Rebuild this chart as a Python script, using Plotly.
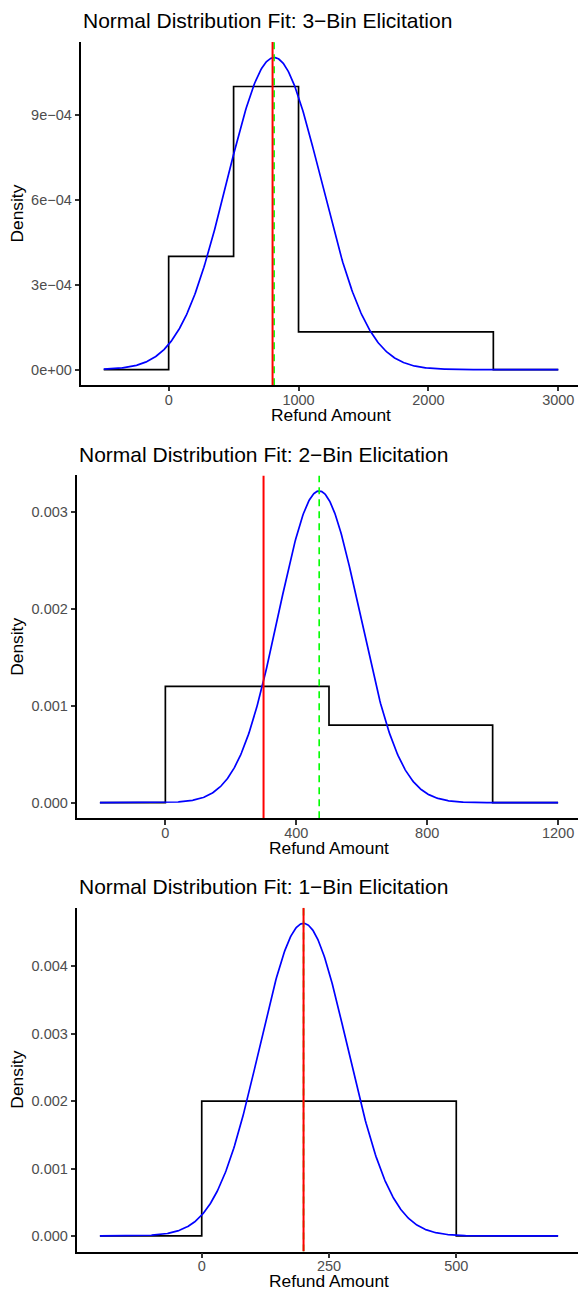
import numpy as np
import plotly.graph_objects as go

# ---------------- data ----------------
titles = ["Normal Distribution Fit: 3\u2212Bin Elicitation",
          "Normal Distribution Fit: 2\u2212Bin Elicitation",
          "Normal Distribution Fit: 1\u2212Bin Elicitation"]

# elicited histogram bin edges and densities
bin_edges_3 = [-500, 0, 500, 1000, 2500, 3000]
bin_dens_3 = [0, 0.0004, 0.0010, 0.0001333, 0]
bin_edges_2 = [-200, 0, 500, 1000, 1200]
bin_dens_2 = [0, 0.0012, 0.0008, 0]
bin_edges_1 = [-200, 0, 500, 700]
bin_dens_1 = [0, 0.0020, 0]

# fitted normal parameters (mean, sd) and reference (red) line
fit_mean = [812, 470, 200]
fit_sd = [362, 124, 86]
ref_value = [800, 300, 200]

# tick values / labels
x_ticks = [[0, 1000, 2000, 3000], [0, 400, 800, 1200], [0, 250, 500]]
y_ticks = [[0, 0.0003, 0.0006, 0.0009], [0, 0.001, 0.002, 0.003], [0, 0.001, 0.002, 0.003, 0.004]]
y_ticktext = [["0e+00", "3e\u221204", "6e\u221204", "9e\u221204"],
              ["0.000", "0.001", "0.002", "0.003"],
              ["0.000", "0.001", "0.002", "0.003", "0.004"]]

edges = [bin_edges_3, bin_edges_2, bin_edges_1]
dens = [bin_dens_3, bin_dens_2, bin_dens_1]

# ---------------- layout (pixels) ----------------
W, H = 578, 1291
panel_left = [81, 77, 77]
panel_right_full = 581          # ggplot panel edge (cropped by image border)
panel_top = [42, 475.4, 907.7]
panel_bottom = [385.2, 818.3, 1251.6]

FONT = "Liberation Sans, Arial, Helvetica, sans-serif"
LW = 1.7

fig = go.Figure()
annotations = []

for i in range(3):
    ax = "" if i == 0 else str(i + 1)
    xa, ya = "x" + ax, "y" + ax
    e = edges[i]
    d = dens[i]
    x0, x1 = e[0], e[-1]

    # histogram outline as steps
    fig.add_trace(go.Scatter(x=e, y=d + [d[-1]], mode="lines", line=dict(color="black", width=LW, shape="hv"),
                             xaxis=xa, yaxis=ya, showlegend=False, hoverinfo="skip"))
    # fitted normal density
    xs = np.linspace(x0, x1, 600)
    ys = np.exp(-0.5 * ((xs - fit_mean[i]) / fit_sd[i]) ** 2) / (fit_sd[i] * np.sqrt(2 * np.pi))
    fig.add_trace(go.Scatter(x=xs, y=ys, mode="lines", line=dict(color="blue", width=LW),
                             xaxis=xa, yaxis=ya, showlegend=False, hoverinfo="skip"))

    ymax = max(max(d), float(ys.max()))
    ylo, yhi = -0.05 * ymax, 1.05 * ymax
    span = x1 - x0
    xlo, xhi_full = x0 - 0.05 * span, x1 + 0.05 * span
    L = panel_left[i]
    xhi = xlo + (xhi_full - xlo) * (W - L) / (panel_right_full - L)

    # mean (green dashed) and reference (red) vertical lines
    fig.add_trace(go.Scatter(x=[fit_mean[i], fit_mean[i]], y=[ylo, yhi], mode="lines",
                             line=dict(color="#00FF00", width=1.6, dash="7px,5px"),
                             xaxis=xa, yaxis=ya, showlegend=False, hoverinfo="skip"))
    fig.add_trace(go.Scatter(x=[ref_value[i], ref_value[i]], y=[ylo, yhi], mode="lines",
                             line=dict(color="#FF0000", width=2.0),
                             xaxis=xa, yaxis=ya, showlegend=False, hoverinfo="skip"))

    common = dict(showgrid=False, zeroline=False, showline=True, linecolor="black", linewidth=LW,
                  ticks="outside", ticklen=4.4, tickwidth=LW, tickcolor="#333333",
                  tickfont=dict(family=FONT, size=14.5, color="#4D4D4D"), automargin=False)
    fig.layout["xaxis" + ax] = dict(common, domain=[L / W, 1.0], range=[xlo, xhi], anchor=ya,
                                    tickvals=x_ticks[i], ticktext=[str(v) for v in x_ticks[i]],
                                    ticklabelstandoff=-4)
    fig.layout["yaxis" + ax] = dict(common, domain=[1 - panel_bottom[i] / H, 1 - panel_top[i] / H],
                                    range=[ylo, yhi], anchor=xa,
                                    tickvals=y_ticks[i], ticktext=y_ticktext[i])

    # titles
    annotations.append(dict(text=titles[i], xref="paper", yref="paper", x=L / W,
                            y=1 - (panel_top[i] - 21) / H, xanchor="left", yanchor="middle",
                            showarrow=False, font=dict(family=FONT, size=21, color="black")))
    annotations.append(dict(text="Refund Amount", xref="paper", yref="paper",
                            x=(L + panel_right_full) / 2 / W, y=1 - (panel_bottom[i] + 29.5) / H,
                            xanchor="center", yanchor="middle", showarrow=False,
                            font=dict(family=FONT, size=17.4, color="black")))
    annotations.append(dict(text="Density", xref="paper", yref="paper", x=17 / W,
                            y=1 - (panel_top[i] + panel_bottom[i]) / 2 / H, xanchor="center",
                            yanchor="middle", textangle=-90, showarrow=False,
                            font=dict(family=FONT, size=17.4, color="black")))

fig.update_layout(width=W, height=H, margin=dict(l=0, r=0, t=0, b=0),
                  plot_bgcolor="white", paper_bgcolor="white", annotations=annotations,
                  font=dict(family=FONT))

fig.write_html("out.html")
